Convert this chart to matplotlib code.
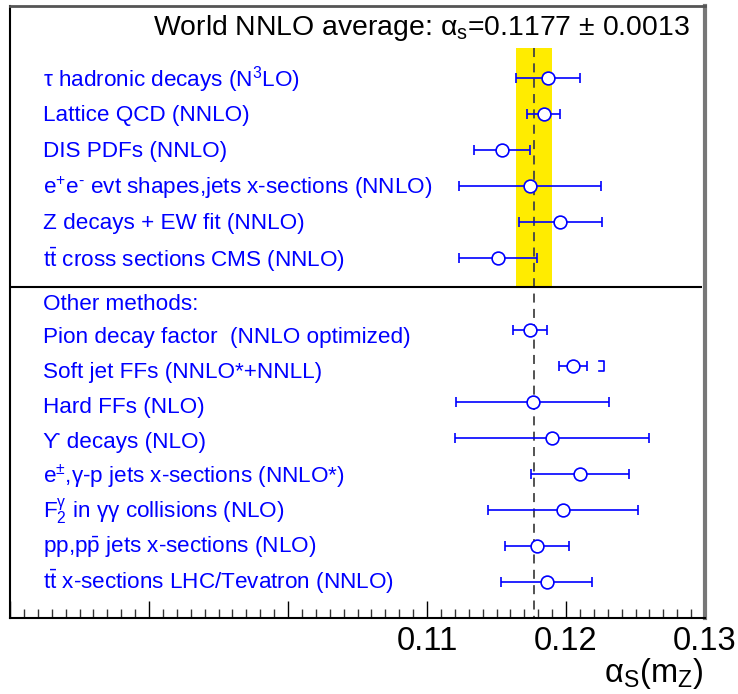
import numpy as np
import matplotlib
matplotlib.use("Agg")
import matplotlib.pyplot as plt
from matplotlib.ticker import MultipleLocator, FuncFormatter

plt.rcParams['font.family'] = ['Liberation Sans', 'DejaVu Sans']
plt.rcParams['mathtext.fontset'] = 'custom'
plt.rcParams['mathtext.rm'] = 'Liberation Sans'
plt.rcParams['mathtext.it'] = 'Liberation Sans'
plt.rcParams['mathtext.sf'] = 'Liberation Sans'

# World average
avg = 0.1177
avg_err = 0.0013

# NNLO categories (top block)
top_labels = [
    r"τ hadronic decays (N$^3$LO)",
    "Lattice QCD (NNLO)",
    "DIS PDFs (NNLO)",
    r"e$^{+}$e$^{\text{-}}$ evt shapes,jets x-sections (NNLO)",
    "Z decays + EW fit (NNLO)",
    r"t$\bar{\mathregular{t}}$ cross sections CMS (NNLO)",
]
top_val = [0.1187, 0.1184, 0.1154, 0.1174, 0.1196, 0.1151]
top_lo = [0.1164, 0.1172, 0.1134, 0.1123, 0.1166, 0.1123]
top_hi = [0.1210, 0.1196, 0.1174, 0.1225, 0.1226, 0.1179]

# Other methods (bottom block)
bot_labels = [
    "Pion decay factor  (NNLO optimized)",
    "Soft jet FFs (NNLO*+NNLL)",
    "Hard FFs (NLO)",
    "ϒ decays (NLO)",
    r"e$^{\text{±}}$,γ-p jets x-sections (NNLO*)",
    r"F$_2^\gamma$ in γγ collisions (NLO)",
    r"pp,p$\bar{\mathregular{p}}$ jets x-sections (NLO)",
    r"t$\bar{\mathregular{t}}$ x-sections LHC/Tevatron (NNLO)",
]
bot_val = [0.1174, 0.1205, 0.1176, 0.1190, 0.1210, 0.1198, 0.1179, 0.1186]
bot_lo = [0.1162, 0.1195, 0.1121, 0.1120, 0.1175, 0.1144, 0.1156, 0.1153]
bot_hi = [0.1186, 0.1215, 0.1231, 0.1260, 0.1245, 0.1252, 0.1202, 0.1219]
soft_jet_bracket = 0.1227

blue = '#0000ff'

fig = plt.figure(figsize=(7.38, 6.94), dpi=100)
ax = fig.add_axes([10 / 738, 76 / 694, 695 / 738, 612 / 694])
ax.set_xlim(0.08, 0.13)
ax.set_ylim(15, -2)

# rows
y_top = np.arange(len(top_val))
y_bot = np.arange(len(bot_val)) + len(top_val) + 1
sep_y = 5.81
band_top = -0.83

# band + dashed average line
ax.fill_betweenx([band_top, sep_y], avg - avg_err, avg + avg_err, color='#ffec00', lw=0, zorder=1)
ax.vlines(avg, band_top, 15, colors='#444444', linestyles=(0, (5, 3.5)), lw=1.3, zorder=2)
ax.hlines(sep_y, 0.08, 0.1298, colors='black', lw=1.5, zorder=2)

vals = np.array(top_val + bot_val)
lo = np.array(top_lo + bot_lo)
hi = np.array(top_hi + bot_hi)
ys = np.concatenate([y_top, y_bot])
ax.errorbar(vals, ys, xerr=[vals - lo, hi - vals], fmt='o', mfc='white', mec=blue,
            mew=1.2, ms=9.2, color=blue, ecolor=blue, elinewidth=1.2, capsize=3.8,
            capthick=1.2, zorder=3)

# bracket on the soft jet FFs row
yb = y_bot[1]
ax.plot([soft_jet_bracket - 0.0003, soft_jet_bracket, soft_jet_bracket, soft_jet_bracket - 0.0003],
        [yb - 0.15, yb - 0.15, yb + 0.15, yb + 0.15], color=blue, lw=1.2, zorder=3)

# labels
tx = 33 / 695
lab_fs = 16.2
for i, lab in enumerate(top_labels):
    ax.text(tx, y_top[i] + 0.05, lab, transform=ax.get_yaxis_transform(), color=blue,
            fontsize=lab_fs, va='center', ha='left')
ax.text(tx, 6.28, "Other methods:", transform=ax.get_yaxis_transform(), color=blue,
        fontsize=lab_fs, va='center', ha='left')
for i, lab in enumerate(bot_labels):
    ax.text(tx, 7.22 + i * 0.968, lab, transform=ax.get_yaxis_transform(), color=blue,
            fontsize=lab_fs, va='center', ha='left')

ax.text(680 / 695, -1.39, f"World NNLO average: α$_\\mathregular{{s}}$={avg:.4f} $\\pm$ {avg_err:.4f}",
        transform=ax.get_yaxis_transform(), fontsize=20.4, va='center', ha='right', color='black')

# axes style
for s in ['left', 'bottom']:
    ax.spines[s].set_color('black')
    ax.spines[s].set_linewidth(1.5)
ax.spines['top'].set_color('#555555')
ax.spines['top'].set_linewidth(2)
ax.spines['right'].set_color('#777777')
ax.spines['right'].set_linewidth(3)

ax.set_yticks([])
ax.xaxis.set_major_locator(MultipleLocator(0.01))
ax.xaxis.set_minor_locator(MultipleLocator(0.001))
shown = {0.11, 0.12, 0.13}
ax.xaxis.set_major_formatter(FuncFormatter(
    lambda v, p: f"{v:.2f}" if round(v, 2) in shown else ""))
ax.tick_params(axis='x', which='major', direction='in', length=12.5, width=1, pad=6,
               labelsize=23.5, colors='black')
ax.tick_params(axis='x', which='minor', direction='in', length=6.5, width=1, color='#333333')

fig.text(703 / 738, 1 - 682 / 694, r"α$_\mathregular{S}$(m$_\mathregular{Z}$)", fontsize=23.5,
         ha='right', va='baseline')

fig.savefig("out.png", dpi=100)
